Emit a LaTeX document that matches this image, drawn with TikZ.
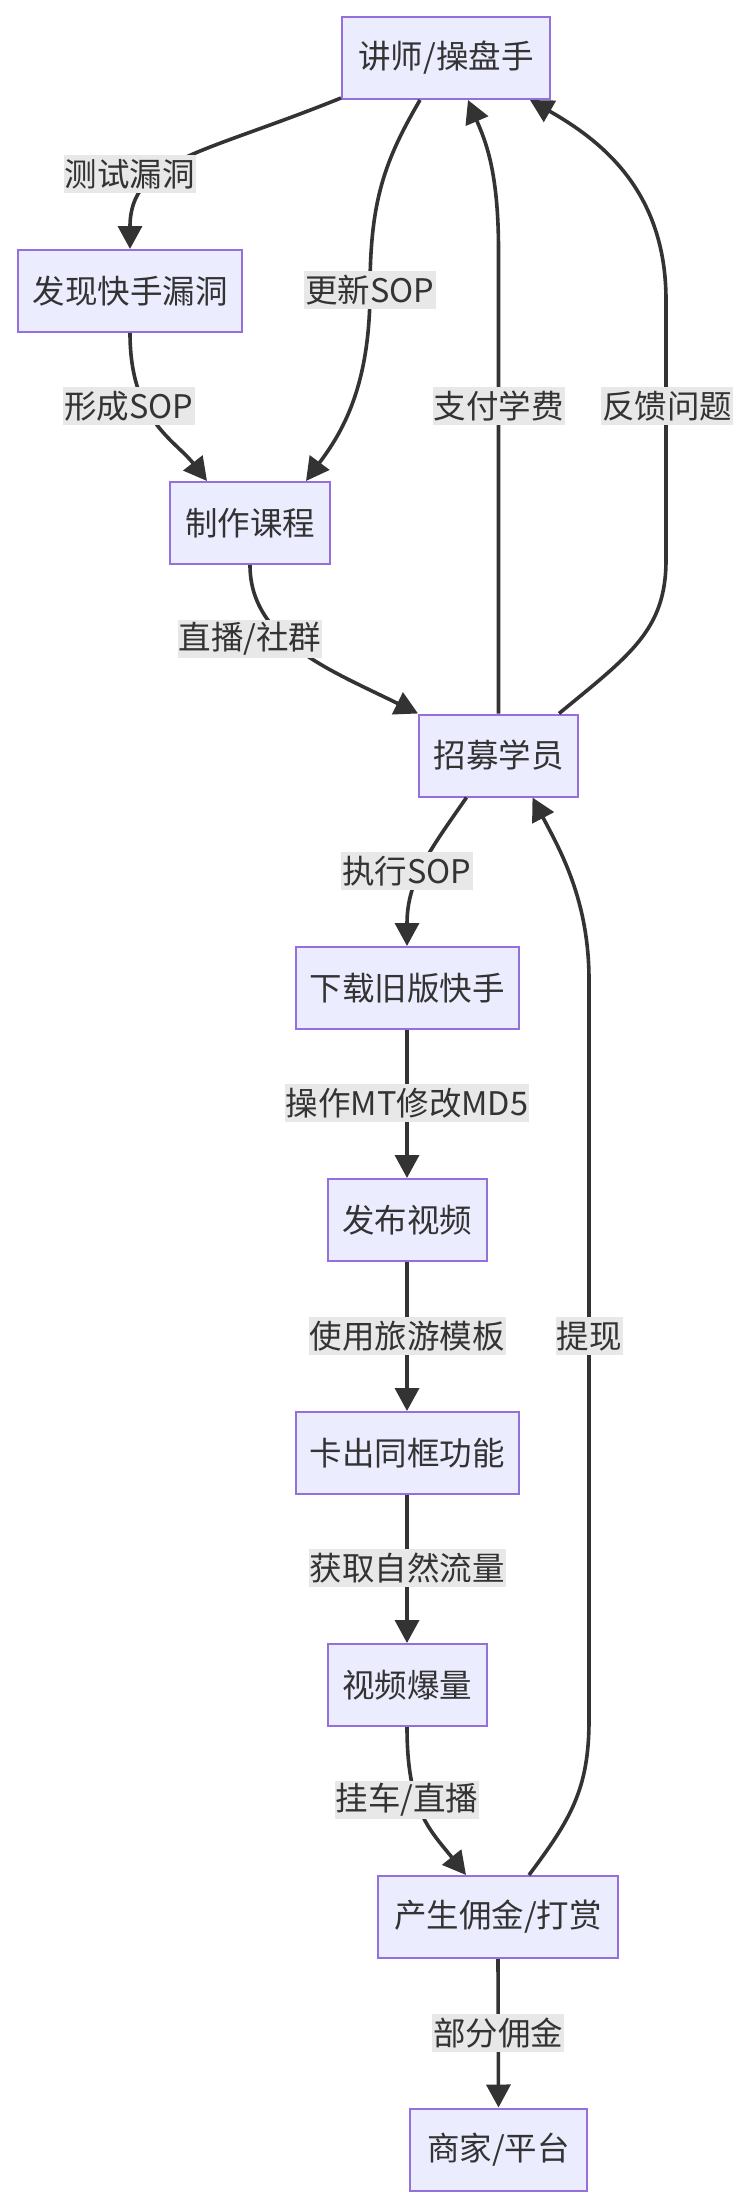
\documentclass[tikz,border=0pt]{standalone}
\usepackage{fontspec}
\setmainfont{Noto Sans CJK SC}
\usetikzlibrary{arrows.meta}
\definecolor{nodefill}{HTML}{ECECFF}
\definecolor{nodeline}{HTML}{9370DB}
\definecolor{edgecol}{HTML}{333333}
\definecolor{lblbg}{HTML}{E8E8E8}
\begin{document}
\begin{tikzpicture}[x=1pt,y=-1pt,
 box/.style={draw=nodeline, fill=nodefill, line width=2pt, minimum height=82pt, inner sep=0pt, text=edgecol, font=\fontsize{32.5}{38}\selectfont},
 lbl/.style={fill=lblbg, inner xsep=1pt, inner ysep=0pt, minimum height=38pt, text=edgecol, font=\fontsize{32.5}{38}\selectfont},
 edge/.style={draw=edgecol, line width=3.6pt, -{Triangle[length=23pt,width=24pt]}}]
\useasboundingbox (0,0) rectangle (744,2208);
\fill[white] (0,0) rectangle (744,2208);
% nodes
\node[box, minimum width=208pt] (T) at (446,58) {讲师/操盘手};
\node[box, minimum width=224pt] (F) at (130,291) {发现快手漏洞};
\node[box, minimum width=160pt] (C) at (250,523) {制作课程};
\node[box, minimum width=159pt] (R) at (498.5,755.5) {招募学员};
\node[box, minimum width=223pt] (D) at (407,988) {下载旧版快手};
\node[box, minimum width=159pt] (V) at (407,1220) {发布视频};
\node[box, minimum width=223pt] (K) at (407,1453) {卡出同框功能};
\node[box, minimum width=159pt] (B) at (407,1685) {视频爆量};
\node[box, minimum width=240pt] (P) at (498,1917) {产生佣金/打赏};
\node[box, minimum width=177pt] (M) at (498.5,2149.5) {商家/平台};
% edges
\draw[edge] ([yshift=2pt]T.south west) .. controls (200,155) and (130,160) .. (F.north);
\draw[edge] ([xshift=-26pt]T.south) .. controls (385,160) and (370,200) .. (370,290) .. controls (370,390) and (340,435) .. ([xshift=-25pt]C.north east);
\draw[edge] (F.south) .. controls (130,420) and (175,440) .. ([xshift=-43pt]C.north);
\draw[edge] (C.south) .. controls (250,640) and (330,670) .. (R.north west);
\draw[edge] (R.north) -- (498.5,250) .. controls (498.5,170) and (485,140) .. ([xshift=22pt]T.south);
\draw[edge] ([xshift=-20pt]R.north east) .. controls (630,655) and (666,630) .. (666,560) -- (666,300) .. controls (666,190) and (600,140) .. ([xshift=84pt]T.south);
\draw[edge] ([xshift=-32pt]R.south) .. controls (430,850) and (407,880) .. (D.north);
\draw[edge] (D.south) -- (V.north);
\draw[edge] (V.south) -- (K.north);
\draw[edge] (K.south) -- (B.north);
\draw[edge] (B.south) .. controls (407,1810) and (430,1830) .. ([xshift=-32pt]P.north);
\draw[edge] ([xshift=31pt]P.north) .. controls (570,1820) and (589,1790) .. (589,1720) -- (589,980) .. controls (589,900) and (560,850) .. ([xshift=34pt]R.south);
\draw[edge] (P.south) -- (M.north);
% edge labels
\node[lbl] (l1) at (129.5,174) {测试漏洞};
\node[lbl] (l2) at (370,290) {更新SOP};
\node[lbl] (l3) at (129,406) {形成SOP};
\node[lbl] (l4) at (498.5,406) {支付学费};
\node[lbl] (l5) at (667,406) {反馈问题};
\node[lbl] (l6) at (250,639) {直播/社群};
\node[lbl] (l7) at (407,871) {执行SOP};
\node[lbl] (l8) at (407,1103) {操作MT修改MD5};
\node[lbl] (l9) at (407,1336) {使用旅游模板};
\node[lbl] (l10) at (589,1336) {提现};
\node[lbl] (l11) at (407,1568) {获取自然流量};
\node[lbl] (l12) at (407,1800) {挂车/直播};
\node[lbl] (l13) at (498,2033) {部分佣金};
\end{tikzpicture}
\end{document}
